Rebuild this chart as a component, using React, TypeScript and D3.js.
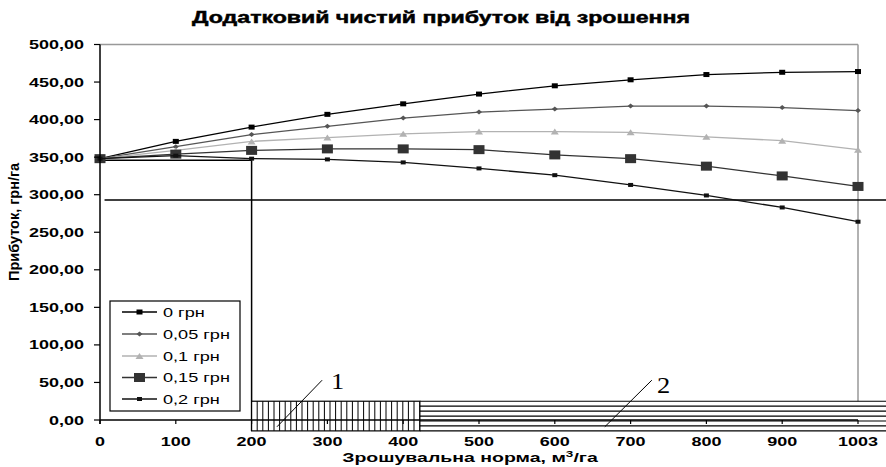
import React from "react";
import * as d3 from "d3";

const categories = [0, 100, 200, 300, 400, 500, 600, 700, 800, 900, 1003];
const seriesNames = ["0 грн", "0,05 грн", "0,1 грн", "0,15 грн", "0,2 грн"];
const s0 = [348, 371, 390, 407, 421, 434, 445, 453, 460, 463, 464];
const s005 = [348, 364, 380, 391, 402, 410, 414, 418, 418, 416, 412];
const s01 = [348, 359, 371, 376, 381, 384, 384, 383, 377, 372, 360];
const s015 = [348, 354, 359, 361, 361, 360, 353, 348, 338, 325, 311];
const s02 = [348, 352, 348, 347, 343, 335, 326, 313, 299, 283, 264];
const yTicks = [0, 50, 100, 150, 200, 250, 300, 350, 400, 450, 500];
const refLevelHigh = 346;
const refLevelLow = 293;
const refX = 200;
const zone1 = [200, 422];
const zone2 = [422, 1037];
const zoneBand = [25, -14.5];

const W = 886;
const H = 467;
const SX = 1.5;
const FONT = "'Liberation Sans', Arial, sans-serif";

const x = d3.scaleLinear().domain([0, 1000]).range([100, 858]);
const y = d3.scaleLinear().domain([0, 500]).range([420, 44.5]);
const xi = (i: number) => x(i * 100);

const styles = [
  { stroke: "#000", fill: "#000", shape: "sq", size: [6, 5] },
  { stroke: "#555", fill: "#555", shape: "dia", size: [6, 5] },
  { stroke: "#b2b2b2", fill: "#b2b2b2", shape: "tri", size: [8, 6] },
  { stroke: "#333", fill: "#333", shape: "sq", size: [11, 9] },
  { stroke: "#111", fill: "#111", shape: "sq", size: [5, 4] },
];
const allSeries = [s0, s005, s01, s015, s02];

function Marker({ cx, cy, st }: any) {
  const [w, h] = st.size;
  if (st.shape === "sq")
    return <rect x={cx - w / 2} y={cy - h / 2} width={w} height={h} fill={st.fill} />;
  if (st.shape === "dia")
    return (
      <path
        d={`M${cx},${cy - h / 2}L${cx + w / 2},${cy}L${cx},${cy + h / 2}L${cx - w / 2},${cy}Z`}
        fill={st.fill}
      />
    );
  return (
    <path
      d={`M${cx},${cy - h / 2}L${cx + w / 2},${cy + h / 2}L${cx - w / 2},${cy + h / 2}Z`}
      fill={st.fill}
    />
  );
}

function T({ x: tx, y: ty, anchor = "start", size = 12, weight = "bold", sx = SX, children, rotate = 0, family = FONT, stroke }: any) {
  return (
    <text
      transform={`translate(${tx},${ty}) scale(${sx},1)${rotate ? ` rotate(${rotate})` : ""}`}
      textAnchor={anchor}
      fontSize={size}
      fontWeight={weight}
      fontFamily={family}
      fill="#000"
      stroke={stroke ? "#000" : undefined}
      strokeWidth={stroke || undefined}
    >
      {children}
    </text>
  );
}

export default function App() {
  const line = d3
    .line<number>()
    .x((_, i) => xi(i))
    .y((d) => y(d));

  const fmt = (v: number) => d3.format(".2f")(v).replace(".", ",");

  const vHatch: number[] = [];
  for (let px = x(zone1[0]) + 5.6; px < x(zone1[1]) - 1; px += 5.6) vHatch.push(px);
  const hHatch: number[] = [];
  const yTop = y(zoneBand[0]);
  const yBot = y(zoneBand[1]);
  for (let k = 0; k <= 6; k++) hHatch.push(yTop + ((yBot - yTop) * k) / 6);

  const legendY = [312, 334, 356, 377.5, 399];

  return (
    <svg width={W} height={H} style={{ position: "absolute", left: 0, top: 0, background: "#fff" }}>
      <rect x={0} y={0} width={W} height={H} fill="#fff" />
      {/* Title */}
      <T x={441} y={22.5} anchor="middle" size={17} sx={1.36} stroke={0.5}>
        Додатковий чистий прибуток від зрошення
      </T>

      {/* plot border top / right */}
      <line x1={x(0)} x2={x(1000)} y1={y(500)} y2={y(500)} stroke="#999" strokeWidth={1.5} />
      <line x1={x(1000)} x2={x(1000)} y1={y(500)} y2={y(0)} stroke="#999" strokeWidth={1.5} />

      {/* reference lines */}
      <line x1={x(0)} x2={x(refX)} y1={y(refLevelHigh)} y2={y(refLevelHigh)} stroke="#000" strokeWidth={1.5} />
      <line x1={x(refX)} x2={x(refX)} y1={y(refLevelHigh)} y2={y(zoneBand[1])} stroke="#000" strokeWidth={1.5} />
      <line x1={x(6)} x2={W} y1={y(refLevelLow)} y2={y(refLevelLow)} stroke="#000" strokeWidth={1.5} />

      {/* series */}
      {allSeries.map((s, k) => (
        <g key={k}>
          <path d={line(s) || ""} fill="none" stroke={styles[k].stroke} strokeWidth={1.3} />
          {s.map((v, i) => (
            <Marker key={i} cx={xi(i)} cy={y(v)} st={styles[k]} />
          ))}
        </g>
      ))}

      {/* zones */}
      <rect x={x(zone1[0])} y={yTop} width={x(zone1[1]) - x(zone1[0])} height={yBot - yTop} fill="#fff" stroke="#000" strokeWidth={1.2} />
      {vHatch.map((px, i) => (
        <line key={i} x1={px} x2={px} y1={yTop} y2={yBot} stroke="#000" strokeWidth={1} />
      ))}
      <rect x={x(zone2[0])} y={yTop} width={x(zone2[1]) - x(zone2[0])} height={yBot - yTop} fill="#fff" />
      {hHatch.map((py, i) => (
        <line key={i} x1={x(zone2[0])} x2={x(zone2[1])} y1={py} y2={py} stroke="#000" strokeWidth={1.2} />
      ))}
      <line x1={x(zone2[0])} x2={x(zone2[0])} y1={yTop} y2={yBot} stroke="#000" strokeWidth={1.2} />

      {/* annotations */}
      <line x1={x(233.5)} y1={y(-9)} x2={x(293)} y2={y(53)} stroke="#000" strokeWidth={1} />
      <T x={331} y={389} size={23} weight="normal" sx={1.15} family="'Liberation Serif', 'Times New Roman', serif">1</T>
      <line x1={x(666)} y1={y(-9)} x2={x(728)} y2={y(53)} stroke="#000" strokeWidth={1} />
      <T x={657} y={393} size={23} weight="normal" sx={1.15} family="'Liberation Serif', 'Times New Roman', serif">2</T>

      {/* axes */}
      <line x1={x(0)} x2={x(0)} y1={y(500)} y2={y(0) + 4} stroke="#000" strokeWidth={1.5} />
      <line x1={x(0)} x2={x(1000)} y1={y(0)} y2={y(0)} stroke="#000" strokeWidth={1.5} />
      {yTicks.map((t) => (
        <g key={t}>
          <line x1={x(0) - 6} x2={x(0)} y1={y(t)} y2={y(t)} stroke="#000" strokeWidth={1.2} />
          <T x={84} y={y(t) + 4.5} anchor="end" size={12}>
            {fmt(t)}
          </T>
        </g>
      ))}
      {categories.map((c, i) => (
        <g key={c}>
          <line x1={xi(i)} x2={xi(i)} y1={y(0)} y2={y(0) + 4} stroke="#000" strokeWidth={1.2} />
          <T x={xi(i)} y={446} anchor="middle" size={12}>
            {String(c)}
          </T>
        </g>
      ))}

      {/* axis titles */}
      <T x={470} y={462} anchor="middle" size={13}>
        Зрошувальна норма, м<tspan dy={-5} fontSize={9}>3</tspan>
        <tspan dy={5}>/га</tspan>
      </T>
      <T x={18.5} y={222} anchor="middle" size={14.5} sx={1} rotate={-90}>
        Прибуток, грн/га
      </T>

      {/* legend */}
      <rect x={110} y={301} width={130} height={110} fill="#fff" stroke="#000" strokeWidth={1.2} />
      {seriesNames.map((n, k) => (
        <g key={n}>
          <line x1={122} x2={157} y1={legendY[k]} y2={legendY[k]} stroke={styles[k].stroke} strokeWidth={1.3} />
          <Marker cx={139.5} cy={legendY[k]} st={styles[k]} />
          <T x={163} y={legendY[k] + 4.5} size={12.5} weight="normal" sx={1.45}>
            {n}
          </T>
        </g>
      ))}
    </svg>
  );
}
